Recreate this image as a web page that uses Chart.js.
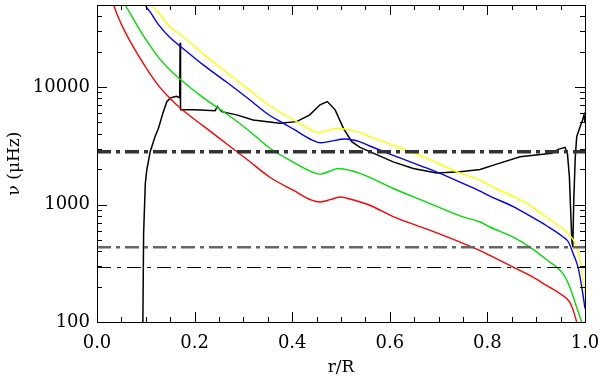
<!DOCTYPE html>
<html>
<head>
<meta charset="utf-8">
<script src="https://cdn.jsdelivr.net/npm/chart.js@4"></script>
<style>
  body { margin: 0; background: #fff; }
  #wrap { width: 600px; height: 376px; }
</style>
</head>
<body>
<div id="wrap"><canvas id="freq-chart"></canvas></div>
<script>
// values (r/R, frequency in microHz)
const redX = [0.030, 0.034, 0.044, 0.055, 0.068, 0.085, 0.102, 0.126, 0.150, 0.171, 0.219, 0.266, 0.307, 0.355, 0.402, 0.440, 0.457, 0.478, 0.498, 0.520, 0.539, 0.559, 0.607, 0.675, 0.744, 0.785, 0.805, 0.853, 0.887, 0.921, 0.949, 0.969, 0.976, 0.983, 0.986];
const redY = [56000, 50000, 39000, 31000, 24500, 18500, 14300, 10300, 8000, 6600, 4630, 3280, 2430, 1700, 1325, 1090, 1052, 1100, 1160, 1110, 1052, 986, 790, 620, 479, 406, 369, 293, 249, 205, 174, 147, 125, 100, 90];

const greenX = [0.054, 0.058, 0.068, 0.085, 0.102, 0.126, 0.150, 0.171, 0.219, 0.266, 0.307, 0.355, 0.402, 0.440, 0.457, 0.478, 0.494, 0.520, 0.539, 0.559, 0.607, 0.675, 0.744, 0.785, 0.805, 0.853, 0.887, 0.921, 0.955, 0.969, 0.983, 0.993, 0.996];
const greenY = [56000, 50000, 42500, 32000, 24800, 17900, 13900, 11600, 8050, 5900, 4400, 3000, 2300, 1900, 1815, 1930, 2030, 1950, 1840, 1700, 1370, 1050, 800, 710, 644, 528, 434, 340, 257, 198, 133, 100, 90];

const blueX = [0.095, 0.099, 0.110, 0.126, 0.150, 0.171, 0.219, 0.266, 0.307, 0.355, 0.382, 0.402, 0.440, 0.457, 0.478, 0.508, 0.539, 0.559, 0.607, 0.675, 0.703, 0.744, 0.785, 0.805, 0.853, 0.887, 0.921, 0.955, 0.966, 0.976, 0.986, 0.995, 1.0];
const blueY = [56000, 50000, 43000, 34000, 26300, 22200, 15300, 11000, 8150, 5700, 4920, 4400, 3550, 3360, 3450, 3610, 3420, 3150, 2620, 2050, 1840, 1550, 1300, 1180, 960, 800, 660, 530, 480, 380, 290, 180, 130];

const yellowX = [0.109, 0.113, 0.126, 0.150, 0.171, 0.219, 0.266, 0.307, 0.355, 0.409, 0.440, 0.453, 0.475, 0.494, 0.520, 0.539, 0.559, 0.607, 0.675, 0.744, 0.785, 0.805, 0.853, 0.887, 0.921, 0.955, 0.966, 0.980, 0.990, 1.0];
const yellowY = [56000, 50000, 43000, 32500, 28000, 19000, 13300, 9800, 6900, 5080, 4300, 4090, 4300, 4460, 4300, 4090, 3790, 3200, 2480, 1850, 1615, 1450, 1170, 985, 780, 620, 565, 465, 334, 174];

const blackX = [0.0935, 0.094, 0.0955, 0.099, 0.102, 0.109, 0.119, 0.126, 0.135, 0.143, 0.150, 0.157, 0.163, 0.167, 0.1695, 0.1703, 0.1712, 0.20, 0.242, 0.2465, 0.2555, 0.286, 0.320, 0.375, 0.409, 0.436, 0.457, 0.472, 0.488, 0.505, 0.522, 0.539, 0.559, 0.607, 0.648, 0.696, 0.744, 0.785, 0.819, 0.867, 0.932, 0.945, 0.959, 0.964, 0.968, 0.971, 0.973, 0.975, 0.977, 0.980, 0.983, 0.990, 0.995, 0.998, 1.0];
const blackY = [90, 100, 565, 1510, 1960, 2820, 3790, 4460, 6000, 7500, 8050, 8250, 8350, 8200, 8100, 23800, 6400, 6400, 6300, 6830, 6180, 5800, 5250, 4920, 5080, 5800, 7070, 7530, 6400, 4460, 3430, 3070, 2820, 2310, 2030, 1860, 1900, 1990, 2210, 2550, 2730, 2950, 3070, 2730, 1720, 810, 500, 434, 1090, 2500, 3790, 4600, 5250, 5800, 5000];

// horizontal reference levels
const levelThick = 2820;
const levelGrey = 434;
const levelThin = 291;

const xTicks = [0, 0.2, 0.4, 0.6, 0.8, 1.0];
const yTicks = [100, 1000, 10000];

function pts(xs, ys) {
  return xs.map((x, i) => ({ x: x, y: ys[i] }));
}

function flat(v) {
  return [{ x: 0, y: v }, { x: 1, y: v }];
}

// inward ticks on all four sides plus the frame
const frameTicks = {
  id: "frameTicks",
  afterDraw(chart) {
    const ctx = chart.ctx;
    const a = chart.chartArea;
    const xs = chart.scales.x;
    const ys = chart.scales.y;
    ctx.save();
    ctx.strokeStyle = "#000";
    ctx.lineWidth = 1;
    ctx.strokeRect(a.left + 0.5, a.top + 0.5, a.right - a.left, a.bottom - a.top);
    ctx.beginPath();
    for (let i = 0; i <= 20; i++) {
      const v = i * 0.05;
      const px = Math.round(xs.getPixelForValue(v)) + 0.5;
      const len = i % 4 === 0 ? 10 : 5;
      ctx.moveTo(px, a.bottom);
      ctx.lineTo(px, a.bottom - len);
      ctx.moveTo(px, a.top);
      ctx.lineTo(px, a.top + len);
    }
    for (let e = 100; e <= 10000; e *= 10) {
      for (let m = 1; m <= 9; m++) {
        const v = e * m;
        if (v > ys.max) break;
        const py = Math.round(ys.getPixelForValue(v)) + 0.5;
        const len = m === 1 ? 10 : 5;
        ctx.moveTo(a.left, py);
        ctx.lineTo(a.left + len, py);
        ctx.moveTo(a.right, py);
        ctx.lineTo(a.right - len, py);
      }
    }
    ctx.stroke();
    ctx.restore();
  },
};

const ctx = document.getElementById("freq-chart");

new Chart(ctx, {
  type: "line",
  data: {
    datasets: [
      { data: flat(levelThick), borderColor: "#333", borderWidth: 3.5, borderDash: [14, 5, 4, 5] },
      { data: flat(levelGrey), borderColor: "#666", borderWidth: 2.5, borderDash: [14, 5, 4, 5] },
      { data: flat(levelThin), borderColor: "#000", borderWidth: 1.2, borderDash: [14, 6, 4, 6] },
      { data: pts(redX, redY), borderColor: "#ff0000", borderWidth: 1.4, cubicInterpolationMode: "monotone" },
      { data: pts(greenX, greenY), borderColor: "#00dd00", borderWidth: 1.4, cubicInterpolationMode: "monotone" },
      { data: pts(blueX, blueY), borderColor: "#0000ff", borderWidth: 1.4, cubicInterpolationMode: "monotone" },
      { data: pts(yellowX, yellowY), borderColor: "#ffff00", borderWidth: 1.4, cubicInterpolationMode: "monotone" },
      { data: pts(blackX, blackY), borderColor: "#000", borderWidth: 1.5, tension: 0 },
    ],
  },
  options: {
    responsive: true,
    maintainAspectRatio: false,
    animation: false,
    elements: { point: { radius: 0 } },
    layout: { padding: { top: 5, right: 15, left: 0, bottom: 0 } },
    plugins: { legend: { display: false }, tooltip: { enabled: false } },
    scales: {
      x: {
        type: "linear",
        min: 0,
        max: 1,
        afterBuildTicks: (s) => { s.ticks = xTicks.map((v) => ({ value: v })); },
        afterFit: (s) => {
          s.height = 54;
          s.paddingLeft = 0;
          s.paddingRight = 0;
        },
        grid: { display: false, drawTicks: false },
        border: { display: false },
        ticks: {
          autoSkip: false,
          maxRotation: 0,
          padding: 11,
          color: "#000",
          font: { family: "DejaVu Serif", size: 18 },
          callback: (v) => Number(v).toFixed(1),
        },
        title: {
          display: true,
          text: "r/R",
          color: "#000",
          padding: { top: 0, bottom: 0 },
          font: { family: "DejaVu Serif", size: 17, lineHeight: 1 },
        },
      },
      y: {
        type: "logarithmic",
        min: 100,
        max: 50000,
        afterBuildTicks: (s) => { s.ticks = yTicks.map((v) => ({ value: v })); },
        afterFit: (s) => {
          s.width = 97;
          s.paddingTop = 0;
          s.paddingBottom = 0;
        },
        grid: { display: false, drawTicks: false },
        border: { display: false },
        ticks: {
          autoSkip: false,
          padding: 7,
          color: "#000",
          font: { family: "DejaVu Serif", size: 18 },
          callback: (v) => String(v),
        },
        title: {
          display: true,
          text: "ν (μHz)",
          color: "#000",
          padding: { top: 6, bottom: 0 },
          font: { family: "DejaVu Serif", size: 17, lineHeight: 1 },
        },
      },
    },
  },
  plugins: [frameTicks],
});
</script>
</body>
</html>
